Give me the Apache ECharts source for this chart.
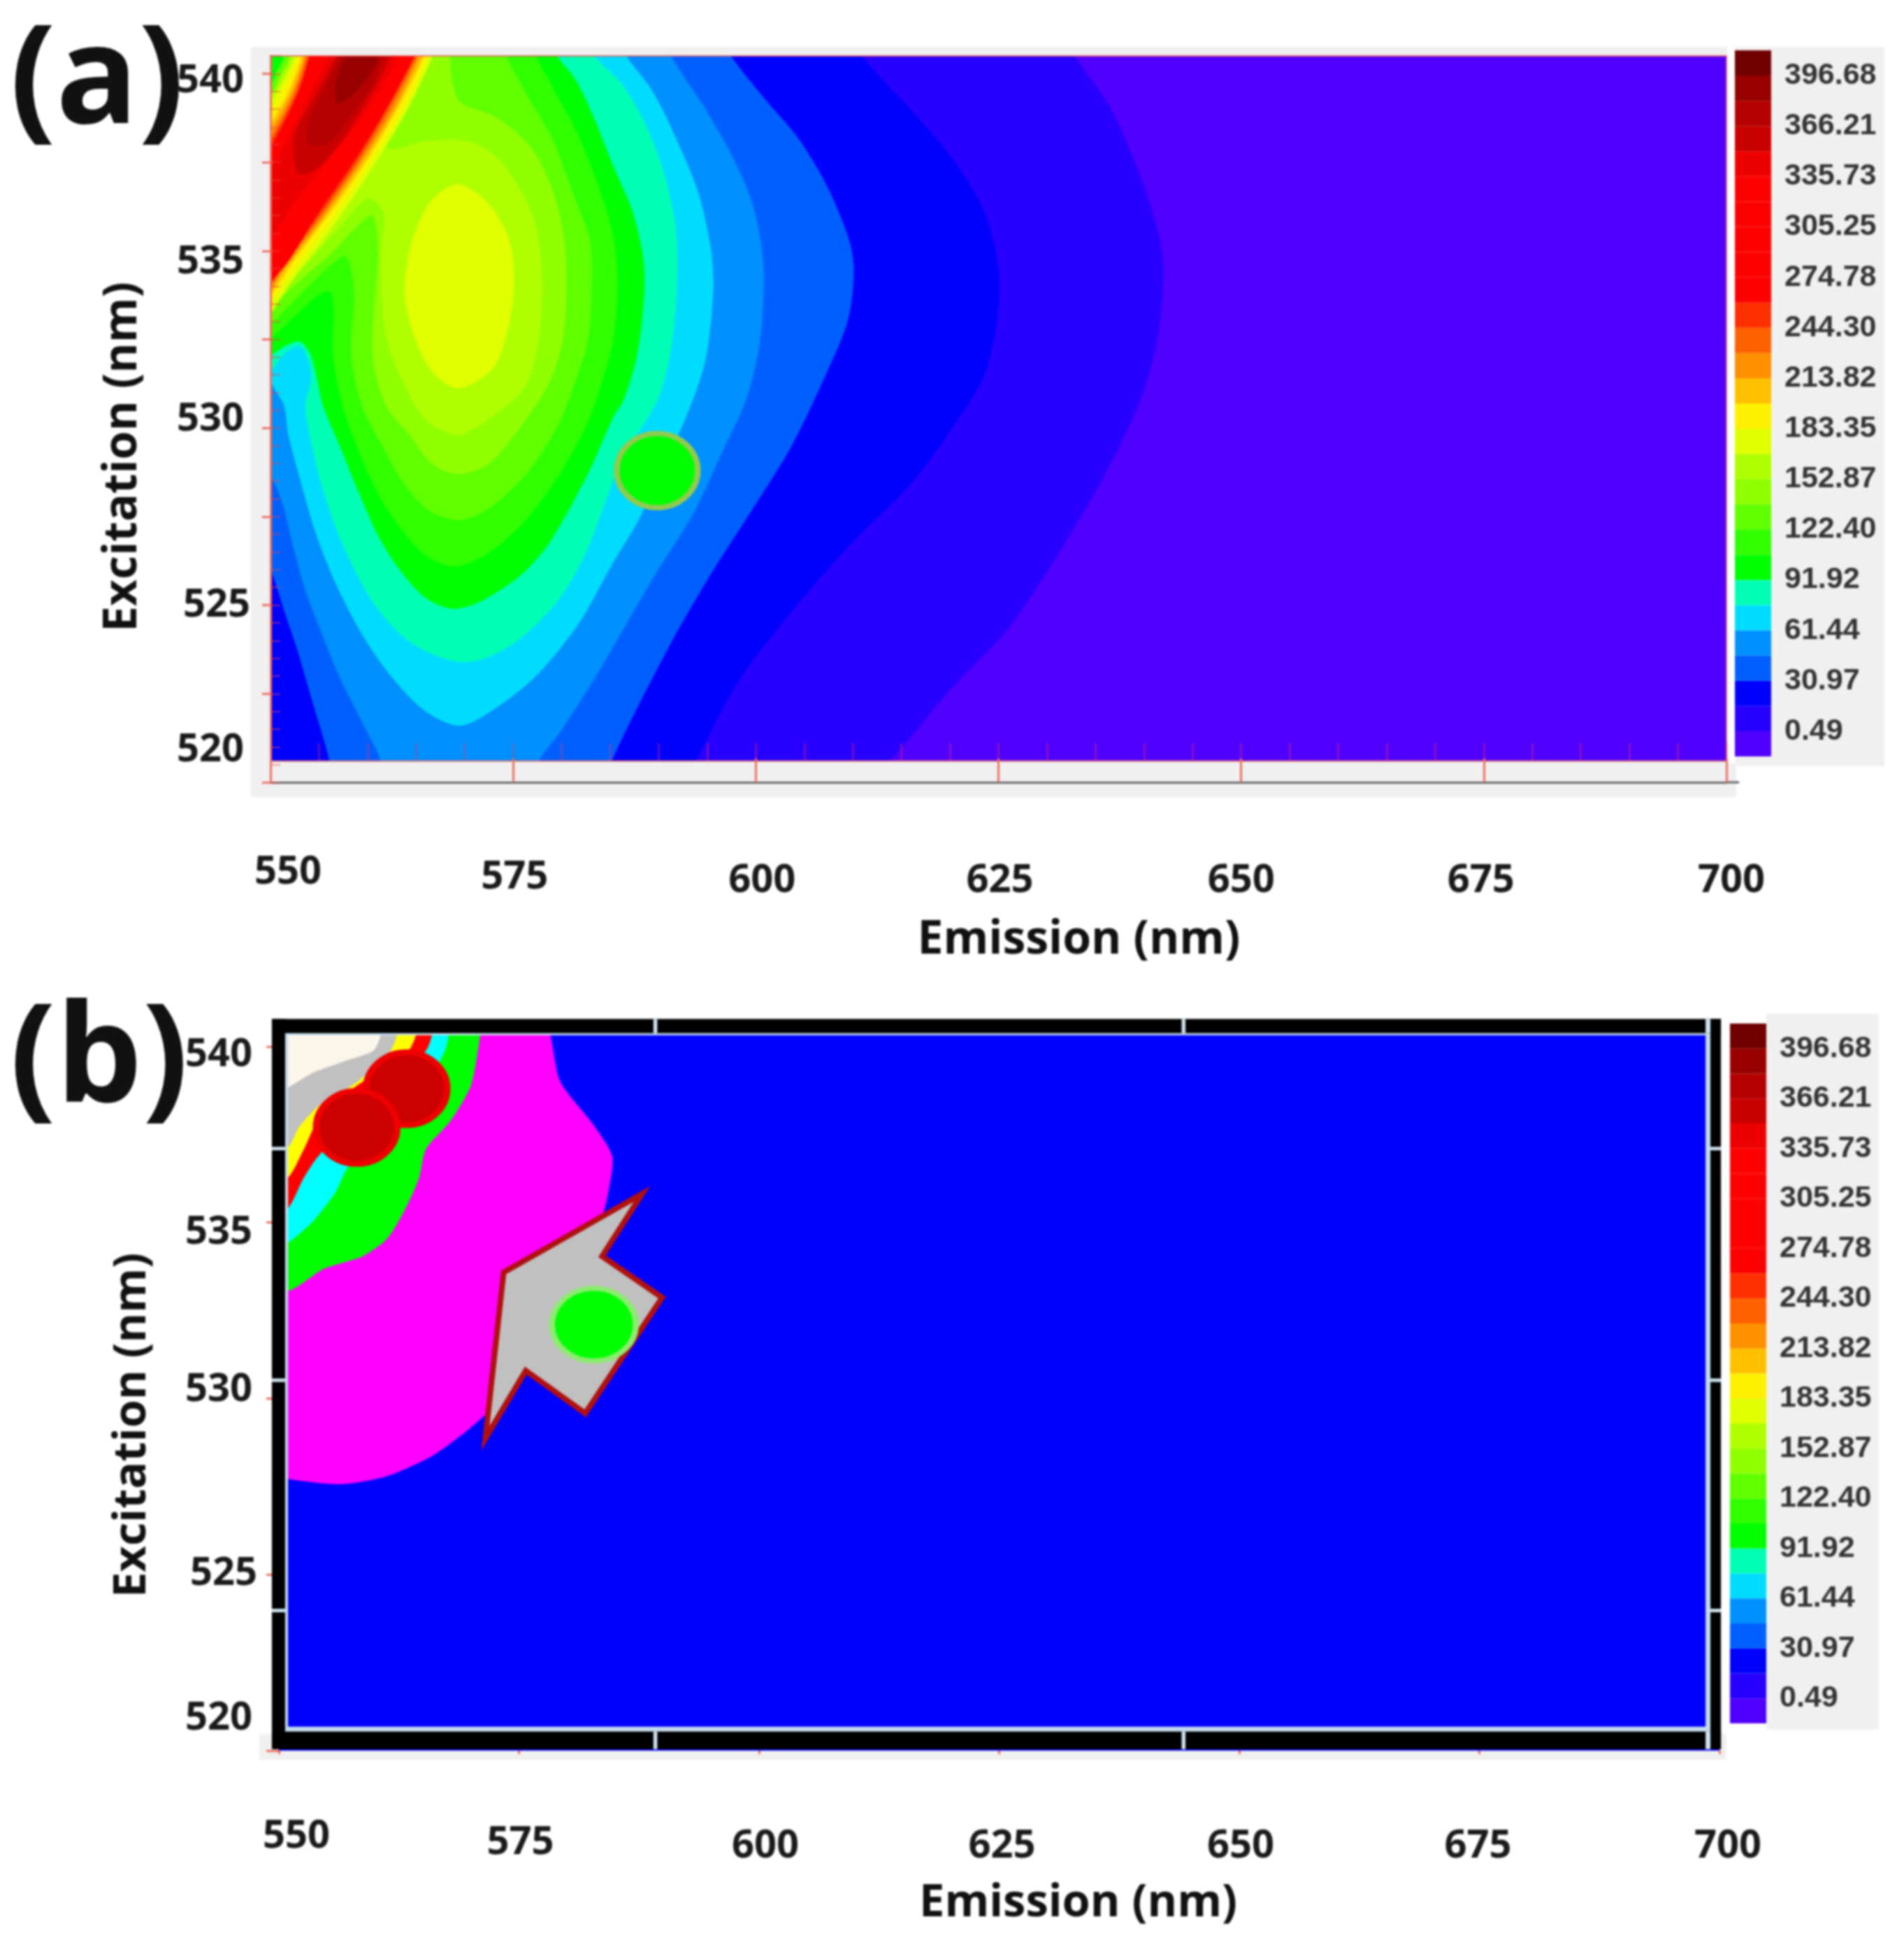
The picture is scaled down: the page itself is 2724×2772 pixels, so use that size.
<!DOCTYPE html>
<html><head><meta charset="utf-8">
<style>html,body{margin:0;padding:0;background:#fff}#c{width:2724px;height:2772px}#c canvas{filter:blur(1.6px)}</style>
<script src="https://cdn.jsdelivr.net/npm/echarts@6/dist/echarts.min.js"></script>
</head><body><div id="c"></div>
<script>
// ---------- tick labels ----------
const emissionTicks = [550, 575, 600, 625, 650, 675, 700];
const excitationTicks = [520, 525, 530, 535, 540];
const colorbarTicks = [396.68, 366.21, 335.73, 305.25, 274.78, 244.30, 213.82, 183.35, 152.87, 122.40, 91.92, 61.44, 30.97, 0.49];
// colour bar: lower edge value of the first band, band height, colours bottom to top
const bandStart = -14.75, bandStep = 15.24;
const bandColors = ['#5000FF','#2800FF','#0000FF','#0060FF','#0090FF','#00DCFF','#00FFB4','#00FF00','#30FF00','#60FF00','#90FF00','#B0FF00','#E0FF00','#FFF000','#FFC000','#FF9000','#FF6000','#FF3000','#FF0000','#FF0000','#FF0000','#FF0000','#FF0000','#EE0000','#C80000','#B40000','#980000','#700000'];

// ---------- panel (a): contour boundaries, [emission, excitation] ----------
const aBase = [[545,515],[705,515],[705,545],[545,545]];
const aL2 = [[548,542],[631.5,541],[632.9,540.47],[636.6,539.0],[639.5,537.2],[641.5,535.5],[642.0,534.5],[641.5,532.7],[639.9,531.0],[636.6,529.0],[632.4,527.0],[626.2,524.4],[620.0,522.6],[613.8,520.6],[609,519.5],[548,519.5]];
const aL3 = [[548,542],[610,541],[611.0,540.47],[615.9,539.0],[620.0,537.7],[623.4,536.2],[625.0,534.5],[624.8,532.9],[623.4,531.4],[620.0,529.9],[615.9,528.4],[609.7,526.7],[603.5,524.75],[598.1,522.8],[593.8,520.6],[591,519.5],[548,519.5]];
const aL4 = [[548,542],[596.5,541],[597.5,540.47],[601.0,539.26],[604.3,538.2],[607.2,536.9],[609.5,535.4],[610.1,534.5],[609.5,533.05],[607.2,531.5],[603.5,529.4],[599.4,527.6],[595.2,525.8],[591.1,523.85],[585.1,520.57],[584,519.5],[556.5,519.5],[556.1,520.57],[554.5,522.1],[552.8,523.7],[551.4,524.85],[550.3,525.8],[548,527.5]];
const aL5 = [[548,542],[590.5,541],[591.3,540.47],[594.8,539.0],[597.7,537.6],[599.8,536.2],[600.8,534.5],[600.4,532.4],[599.0,530.8],[596.5,529.3],[593.6,527.6],[589.5,525.8],[583.7,523.07],[579.8,521.4],[577.6,520.57],[577,519.5],[561.7,519.5],[561.4,520.57],[559.7,521.56],[556.9,523.1],[555.0,524.4],[553.6,525.4],[552.3,526.7],[551.2,527.9],[550.3,528.5],[548,529.5]];
const aL6 = [[548,542],[586,541],[586.7,540.49],[589.2,539.57],[590.9,538.7],[594.0,536.7],[595.4,535.0],[595.6,533.8],[594.8,531.9],[592.8,530.3],[588.1,527.5],[585.3,526.2],[581.8,524.5],[577.6,523.07],[573.5,522.15],[569.6,521.6],[566.0,522.0],[562.7,522.9],[559.7,524.05],[556.9,525.5],[554.7,527.0],[553.1,528.5],[551.8,529.85],[551.4,530.63],[550.3,531.16],[548,532.5]];
const aL7 = [[548,542],[582.6,541],[583.4,540.49],[586.2,539.7],[588.4,538.7],[590.3,537.4],[591.7,535.76],[591.9,534.2],[591.3,532.3],[589.9,530.8],[586.2,529.1],[582.6,526.55],[579.8,525.2],[575.7,524.05],[572.1,523.5],[569.4,523.4],[566.0,523.7],[563.3,524.2],[560.5,525.1],[558.3,526.2],[556.7,527.2],[555.0,528.65],[553.9,530.0],[553.6,530.63],[554.2,531.5],[553.1,532.3],[551.4,532.1],[550.3,531.7],[548,531.2]];
const aL8 = [[548,542],[578.8,541],[579.55,540.49],[581.5,539.8],[583.4,538.7],[585.3,537.4],[587.3,536.1],[588.4,534.8],[588.5,533.8],[587.8,532.1],[586.4,530.8],[585.3,530.3],[582.6,528.65],[578.7,526.75],[575.7,525.83],[571.6,525.1],[568.8,524.9],[566.0,525.2],[563.3,526.0],[561.1,526.95],[558.9,528.3],[557.2,529.45],[555.4,530.63],[554.7,531.5],[554.0,532.14],[553.0,532.44],[551.4,532.3],[550.3,532.1],[548,531.9]];
const aL9 = [[548,542],[576.5,541],[577.35,540.49],[579.3,539.5],[581.5,538.39],[583.7,536.9],[585.3,535.43],[585.75,534.1],[585.3,532.47],[584.0,531.16],[582.6,530.1],[579.8,528.7],[576.5,527.47],[572.9,526.55],[569.1,526.09],[566.0,526.4],[563.3,527.2],[561.1,528.13],[559.15,529.3],[557.4,530.63],[556.4,532.14],[556.5,533.26],[556.1,533.85],[554.7,533.7],[552.3,533.1],[550.3,532.6],[548,532.3]];
const aL10 = [[548,542],[573.6,541],[574.3,540.49],[576.5,539.37],[579.0,538.19],[581.2,536.6],[582.9,535.3],[583.1,534.1],[582.7,532.47],[581.2,531.16],[579.55,530.04],[576.8,528.85],[573.8,528.0],[571.3,527.54],[569.1,527.4],[566.3,527.67],[563.8,528.4],[561.9,529.3],[559.4,530.63],[558.3,532.14],[558.6,533.8],[557.8,534.84],[556.4,534.64],[553.6,533.92],[551.2,533.26],[550.3,533.0],[548,532.7]];
const aL11 = [[548,542],[568.4,541],[568.5,540.49],[568.8,539.7],[569.6,539.18],[573.2,538.78],[576.8,537.93],[579.0,536.75],[580.2,535.43],[580.5,534.1],[580.1,532.47],[578.5,531.16],[574.3,529.51],[572.1,528.92],[569.1,528.7],[566.6,529.0],[564.4,529.78],[561.9,530.63],[560.5,532.14],[561.1,535.1],[560.5,536.0],[559.15,535.76],[556.4,534.97],[552.8,534.1],[550.9,533.6],[550.3,533.4],[548,533]];
const aL12 = [[548,542],[561.9,537.93],[566.0,538.1],[570.2,538.1],[573.2,537.67],[575.7,536.75],[577.35,535.69],[578.0,534.1],[577.6,532.47],[576.2,531.16],[572.7,530.3],[569.35,529.8],[566.6,530.1],[564.9,530.63],[562.0,532.47],[561.35,534.77],[561.6,536.09],[560.0,536.48],[557.2,535.69],[553.1,534.44],[550.9,533.8],[550.3,533.6],[548,533.5]];
const aL13 = [[569.5,536.88],[572.4,536.35],[574.6,535.3],[575.1,534.1],[574.45,532.8],[572.9,531.68],[569.35,531.12],[566.6,531.6],[564.7,532.67],[563.8,533.8],[564.4,535.1],[566.0,536.2],[567.7,536.7]];
// top-left valley
const aV1 = [[548,542],[553.1,542],[552.8,540.49],[551.55,539.77],[550.3,539.2],[548,538]];
const aV2 = [[548,542],[552.2,542],[552.0,540.49],[551.0,539.9],[550.3,539.5],[548,539]];
const aV3 = [[548,542],[551.6,542],[551.4,540.49],[550.6,540.03],[550.2,539.77],[548,539.5]];
// diagonal ridge, nested outside in
const aR1 = [[567.2,541],[566.7,540.49],[564.1,538.98],[561.1,537.6],[558.3,536.42],[555.6,535.36],[552.8,534.38],[551.0,533.65],[550.3,533.33],[548,532.5],[548,538],[550.3,539.31],[551.4,539.84],[552.5,540.49],[552.8,541]];
const aR2 = [[566.7,541],[566.2,540.49],[563.6,538.98],[560.5,537.6],[557.8,536.48],[555.0,535.43],[552.3,534.44],[550.3,533.65],[548,532.8],[548,538],[550.3,538.98],[551.7,539.77],[552.9,540.49],[553.2,541]];
const aR3 = [[566.3,541],[565.8,540.49],[563.0,538.98],[560.0,537.6],[557.4,536.55],[554.7,535.56],[552.0,534.57],[550.3,533.85],[548,533],[548,537.8],[550.3,538.72],[552.0,539.57],[553.2,540.49],[553.5,541]];
const aR4 = [[565.9,541],[565.4,540.49],[562.7,538.98],[559.6,537.6],[557.0,536.55],[554.4,535.56],[551.65,534.57],[550.3,534.0],[548,533.1],[548,537.6],[550.3,538.52],[552.3,539.54],[553.5,540.49],[553.8,541]];
const aR5 = [[565.6,541],[565.1,540.49],[562.3,538.98],[559.3,537.6],[556.7,536.55],[554.1,535.56],[551.3,534.57],[550.3,534.1],[548,533.2],[548,537.4],[550.3,538.32],[552.5,539.5],[553.7,540.49],[554,541]];
const aR6 = [[565.4,541],[564.9,540.49],[562.0,538.98],[559.0,537.6],[556.4,536.55],[553.8,535.56],[551.1,534.57],[550.3,534.2],[548,533.3],[548,537.3],[550.3,538.19],[552.75,539.5],[553.9,540.49],[554.2,541]];
const aR7 = [[565.3,541],[564.8,540.49],[561.6,538.85],[558.3,537.4],[555.0,536.09],[552.0,534.77],[550.3,534.2],[548,533.4],[548,537.2],[550.3,538.06],[552.9,539.5],[554.0,540.49],[554.3,541]];
const aD1 = [[556,541],[555.8,540.49],[553.9,539.37],[550.3,537.4],[548,536.5],[548,534.6],[550.3,535.43],[552.5,536.35],[556.1,537.6],[559.7,538.85],[561.9,539.84],[563.1,540.49],[563.5,541]];
const aD2 = [[556.9,541],[556.7,540.49],[554.7,539.44],[552.5,538.26],[552.8,537.2],[554.5,537.27],[557.2,538.06],[559.7,539.11],[561.6,540.03],[562.3,540.49],[562.7,541]];
const aD3 = [[557.3,541],[557.1,540.49],[555.3,539.44],[553.8,538.52],[554.0,538.0],[556.1,538.06],[558.3,538.85],[560.3,539.57],[561.6,540.49],[562,541]];
const aD4 = [[557.8,541],[557.6,540.49],[556.7,539.7],[556.9,539.18],[558.3,539.37],[560.0,539.9],[561.2,540.49],[561.5,541]];
const aContours = [aBase,aL2,aL3,aL4,aL5,aL6,aL7,aL8,aL9,aL10,aL11,aL12,aL13,aV1,aV2,aV3,aR1,aR2,aR3,aR4,aR5,aR6,aR7,aD1,aD2,aD3,aD4];
const aColors = ['#5000FF','#2800FF','#0000FF','#0060FF','#0090FF','#00DCFF','#00FFB4','#00FF00','#30FF00','#60FF00','#90FF00','#B0FF00','#E0FF00','#B0FF00','#60FF00','#00FF00','#E0FF00','#FFF000','#FFC000','#FF9000','#FF6000','#FF3000','#FF0000','#EE0000','#C80000','#B40000','#980000'];
const aSpot = [[589.84, 528.8]];
const aStrip = [[549,519],[701,519],[701,520.6],[549,520.6]];
const aEdge = [[550,520.6],[700,520.6],[700,540.5],[550,540.5]];
const aLineEnd = [[700,519.97,701.3,520.03,'#666666']];

// ---------- panel (b) ----------
const bBase = [[545,515],[705,515],[705,545],[545,545]];
const bMagenta = [[548,542],[577.0,540.94],[579.3,539.0],[582.7,537.79],[584.7,536.88],[584.3,535.86],[583.65,535.15],[581.7,533.84],[577.1,531.3],[572.0,529.68],[569.5,529.07],[565.9,528.36],[561.3,527.8],[556.7,527.57],[552.6,527.65],[549.55,527.8],[548,528]];
const bGreen = [[548,542],[571.25,540.94],[571.0,540.38],[570.0,538.9],[567.9,537.9],[565.3,537.08],[564.6,536.27],[563.3,535.46],[561.3,534.55],[558.7,534.04],[554.65,533.68],[551.6,533.13],[549.55,533.0]];
const bCyan = [[548,542],[567.3,540.94],[567.2,539.82],[561.8,537.7],[557.2,536.57],[555.9,535.86],[553.6,535.05],[551.1,534.45],[549.55,534.24]];
const bRed = [[548,542],[565.8,540.94],[565.4,539.92],[559.8,538.4],[554.1,536.88],[552.6,536.27],[551.1,535.46],[549.55,535.15]];
const bYellow = [[548,542],[564.25,540.94],[563.6,539.92],[557.7,538.8],[554.1,537.9],[552.6,537.08],[551.1,536.32],[549.55,536.07]];
const bGray = [[548,542],[562.6,540.94],[562.3,540.33],[561.5,539.82],[558.2,539.0],[554.1,538.3],[552.1,537.7],[551.1,537.18],[549.55,536.88]];
const bCream = [[548,542],[561.0,540.94],[560.5,540.23],[559.8,539.87],[556.7,539.57],[553.6,539.26],[551.1,538.86],[549.55,538.7]];
const bContours = [bBase,bMagenta,bGreen,bCyan,bRed,bYellow,bGray,bCream];
const bColors = ['#0000FF','#FF00FF','#00FF00','#00FFFF','#FF0000','#FFFF00','#C0C0C0','#FBF6EA'];
const bArrow = [[587.8,535.81],[583.65,534.04],[589.9,532.87],[581.9,529.58],[575.7,530.79],[571.5,528.87],[573.4,533.58]];
const bRedSpots = [[563.3,538.8],[558.1,537.7]];
const bGreenSpot = [[582.8,532.1]];
// frame bars: [em0, ex0, em1, ex1, colour]
const bFrame = [
 [549.27,520.04,700.15,520.68,'#C4DCEC'],[549.27,540.32,700.15,540.78,'#C4DCEC'],
 [549.27,520.04,550.95,540.78,'#C4DCEC'],[698.55,520.04,700.15,540.78,'#C4DCEC'],
 [549.27,520.04,700.15,520.54,'#000000'],[549.27,540.38,700.15,540.78,'#000000'],
 [549.27,520.04,550.65,540.78,'#000000'],[699.06,520.04,700.15,540.78,'#000000'],
 [698.55,520.04,699.06,520.54,'#D0E4F0'],[698.55,540.38,699.06,540.78,'#D0E4F0'],
 [589.0,520.04,589.4,520.54,'#D0E4F0'],[644.0,520.04,644.4,520.54,'#D0E4F0'],
 [589.0,540.38,589.4,540.78,'#D0E4F0'],[644.0,540.38,644.4,540.78,'#D0E4F0'],
 [549.27,537.05,550.65,537.15,'#D0E4F0'],[549.27,530.47,550.65,530.57,'#D0E4F0'],[549.27,523.93,550.65,524.03,'#D0E4F0'],
 [699.06,537.05,700.15,537.15,'#D0E4F0'],[699.06,530.47,700.15,530.57,'#D0E4F0'],[699.06,523.93,700.15,524.03,'#D0E4F0']
];

// ---------- helpers ----------
const FONT = '"Open Sans"';
function polySeries(name, xi, yi, polys, colors, smooth, clip, z, stroke){
  return {type:'custom', name, xAxisIndex:xi, yAxisIndex:yi, coordinateSystem:'cartesian2d', clip, z, silent:true,
    data: polys.map(p=>p[0]),
    renderItem(params, api){
      const i = params.dataIndex;
      return {type:'polygon', shape:{points:polys[i].map(v=>api.coord(v)), smooth},
        style:{fill:colors[i], stroke: stroke?stroke.color:colors[i], lineWidth: stroke?stroke.width:0, lineJoin:'miter'}};
    }};
}
function rectSeries(name, xi, yi, bars, z){
  return {type:'custom', name, xAxisIndex:xi, yAxisIndex:yi, clip:false, z, silent:true,
    data: bars.map(b=>[b[0],b[1]]),
    renderItem(params, api){
      const b = bars[params.dataIndex], p0 = api.coord([b[0],b[3]]), p1 = api.coord([b[2],b[1]]);
      return {type:'rect', shape:{x:p0[0],y:p0[1],width:p1[0]-p0[0],height:p1[1]-p0[1]}, style:{fill:b[4]}};
    }};
}
function spotSeries(name, xi, yi, pts, size, fill, border, bw, z){
  return {type:'scatter', name, xAxisIndex:xi, yAxisIndex:yi, data:pts, symbol:'circle', symbolSize:size, z, silent:true, clip:false,
    itemStyle:{color:fill, borderColor:border, borderWidth:bw, opacity:1}};
}
function richFor(list, pads, fs){
  const rich = {};
  list.forEach((v,i)=>{rich['t'+i]={fontFamily:FONT,fontWeight:700,fontSize:fs,color:'#1a1a1a',padding:pads[i]};});
  return rich;
}
function tickFormatter(list){return v=>{const i=list.indexOf(v);return i<0?'':'{t'+i+'|'+v+'}';};}
function colorbar(gi, xi, yi){
  const bars = bandColors.map((c,i)=>[0, bandStart+i*bandStep, 1, bandStart+(i+1)*bandStep, c]);
  return {
    xAxis:{gridIndex:gi,type:'value',min:0,max:1,show:false},
    yAxis:{gridIndex:gi,type:'value',position:'right',min:bandStart,max:bandStart+28*bandStep,
      axisLine:{show:false},axisTick:{show:false},splitLine:{show:false},
      axisLabel:{customValues:colorbarTicks,margin:19,padding:[4,0,0,0],formatter:v=>v.toFixed(2),fontFamily:'"Liberation Sans"',fontWeight:700,fontSize:43,color:'#333'}},
    series:rectSeries('colorbar',xi,yi,bars,2)
  };
}
const cbA = colorbar(1,1,2), cbB = colorbar(3,3,4);
const redTick = '#EE6F60';

const option = {
  animation:false, backgroundColor:'#fff',
  graphic:[
    {type:'rect',z:-10,silent:true,shape:{x:359,y:67,width:2125,height:1073},style:{fill:'#F0F0F0'}},
    {type:'rect',z:-10,silent:true,shape:{x:2484,y:67,width:212,height:1029},style:{fill:'#F0F0F0'}},
    {type:'rect',z:-9,silent:true,shape:{x:2471,y:67,width:11,height:1025},style:{fill:'#FFFFFF'}},
    {type:'rect',z:-10,silent:true,shape:{x:371,y:2480,width:2099,height:37},style:{fill:'#F0F0F0'}},
    {type:'rect',z:-10,silent:true,shape:{x:2527,y:1450,width:161,height:1024},style:{fill:'#F0F0F0'}},
    {type:'text',z:20,silent:true,x:14,y:120,style:{text:'(a)',font:'bold 195px '+FONT,fill:'#111',verticalAlign:'middle',textAlign:'left'}},
    {type:'text',z:20,silent:true,x:14,y:1520,style:{text:'(b)',font:'bold 195px '+FONT,fill:'#111',verticalAlign:'middle',textAlign:'left'}}
  ],
  grid:[
    {left:387,top:80,width:2083,height:1039},
    {left:2482,top:72,width:52,height:1010},
    {left:399,top:1459,width:2061,height:1045},
    {left:2475,top:1464,width:52,height:1001}
  ],
  xAxis:[
    {gridIndex:0,type:'value',position:'bottom',min:550,max:700,interval:25,z:6,
      name:'Emission (nm)',nameLocation:'middle',nameGap:193,
      nameTextStyle:{fontFamily:FONT,fontWeight:700,fontSize:66,color:'#111',padding:[0,0,0,230]},
      axisLine:{show:true,lineStyle:{color:'#666',width:3}},
      axisTick:{show:true,inside:true,length:34,lineStyle:{color:redTick,width:3}},
      splitLine:{show:false},
      axisLabel:{margin:101,verticalAlign:'top',formatter:tickFormatter(emissionTicks),
        rich:richFor(emissionTicks,[[0,0,0,50],[7,0,0,4],[12,0,0,18],[12,0,0,4],[12,0,0,0],[12,8,0,0],[12,0,0,14]],56)}},
    cbA.xAxis,
    {gridIndex:2,type:'value',position:'bottom',min:550,max:700,interval:25,z:6,
      name:'Emission (nm)',nameLocation:'middle',nameGap:186,
      nameTextStyle:{fontFamily:FONT,fontWeight:700,fontSize:65,color:'#111',padding:[0,0,0,226]},
      axisLine:{show:false},
      axisTick:{show:true,length:5,lineStyle:{color:redTick,width:3}},
      splitLine:{show:false},
      axisLabel:{margin:95,verticalAlign:'top',formatter:tickFormatter(emissionTicks),
        rich:richFor(emissionTicks,[[0,0,0,50],[9,0,0,4],[14,0,0,18],[14,0,0,8],[14,0,0,4],[14,4,0,0],[14,0,0,24]],56)}},
    cbB.xAxis,
    // faint fine ticks of panel (a): they rise from below the plot, the strip hides their lower part
    {gridIndex:0,type:'value',position:'bottom',offset:0,min:550,max:700,interval:5,z:2.5,
      axisLine:{show:false,onZero:false},axisLabel:{show:false},splitLine:{show:false},
      axisTick:{show:true,inside:true,length:56,lineStyle:{color:'rgba(240,50,90,.35)',width:3}}}
  ],
  yAxis:[
    {gridIndex:0,type:'value',min:520,max:540.5,interval:5,z:6,
      name:'Excitation (nm)',nameLocation:'middle',nameRotate:90,nameGap:178,
      nameTextStyle:{fontFamily:FONT,fontWeight:700,fontSize:66,color:'#111',padding:[0,108,0,0]},
      axisLine:{show:true,lineStyle:{color:redTick,width:3}},
      axisTick:{show:true,length:12,lineStyle:{color:redTick,width:3},customValues:excitationTicks},
      minorTick:{show:true,splitNumber:2,length:12,lineStyle:{color:redTick,width:3}},
      splitLine:{show:false},
      axisLabel:{margin:29,verticalAlign:'middle',formatter:tickFormatter(excitationTicks),
        rich:richFor(excitationTicks,[[0,9,91,0],[0,0,0,0],[0,9,24,0],[32,9,0,0],[22,9,0,0]],56)}},
    {gridIndex:0,type:'value',min:520,max:540.5,interval:0.5,z:6,position:'left',
      axisLine:{show:false},axisLabel:{show:false},splitLine:{show:false},
      axisTick:{show:true,inside:true,length:14,lineStyle:{color:'rgba(235,70,70,.55)',width:2}}},
    cbA.yAxis,
    {gridIndex:2,type:'value',min:520,max:540.75,interval:5,z:6,
      name:'Excitation (nm)',nameLocation:'middle',nameRotate:90,nameGap:177,
      nameTextStyle:{fontFamily:FONT,fontWeight:700,fontSize:65,color:'#111',padding:[0,114,0,0]},
      axisLine:{show:false},
      axisTick:{show:true,length:18,lineStyle:{color:redTick,width:3},customValues:excitationTicks},
      splitLine:{show:false},
      axisLabel:{margin:31,verticalAlign:'middle',formatter:tickFormatter(excitationTicks),
        rich:richFor(excitationTicks,[[0,7,91,0],[0,0,3,0],[0,7,25,0],[28,7,0,0],[24,7,0,0]],56)}},
    cbB.yAxis
  ],
  series:[
    polySeries('panel a contours',0,0,aContours,aColors,0.3,true,2),
    polySeries('panel a strip',0,0,[aStrip],['#F0F0F0'],0,true,3),
    polySeries('panel a edge',0,0,[aEdge],['rgba(0,0,0,0)'],0,false,3,{color:'rgba(230,90,90,.8)',width:2}),
    rectSeries('panel a axis end',0,0,aLineEnd,3),
    spotSeries('panel a spot',0,0,aSpot,[116,106],'#00FF00','#8FCB4F',8,4),
    cbA.series,
    polySeries('panel b contours',2,3,bContours,bColors,0.25,true,2),
    polySeries('panel b arrow',2,3,[bArrow],['#C0C0C0'],0,false,3,{color:'#B01010',width:8}),
    spotSeries('panel b green spot',2,3,bGreenSpot,[120,104],'#00FF00','#8CEB70',8,4),
    spotSeries('panel b red spots',2,3,bRedSpots,[116,104],'#CC0000','#EE0000',9,4),
    rectSeries('panel b frame',2,3,bFrame,7),
    cbB.series
  ]
};
const chart = echarts.init(document.getElementById('c'),null,{renderer:'canvas'});
chart.setOption(option);
</script></body></html>
